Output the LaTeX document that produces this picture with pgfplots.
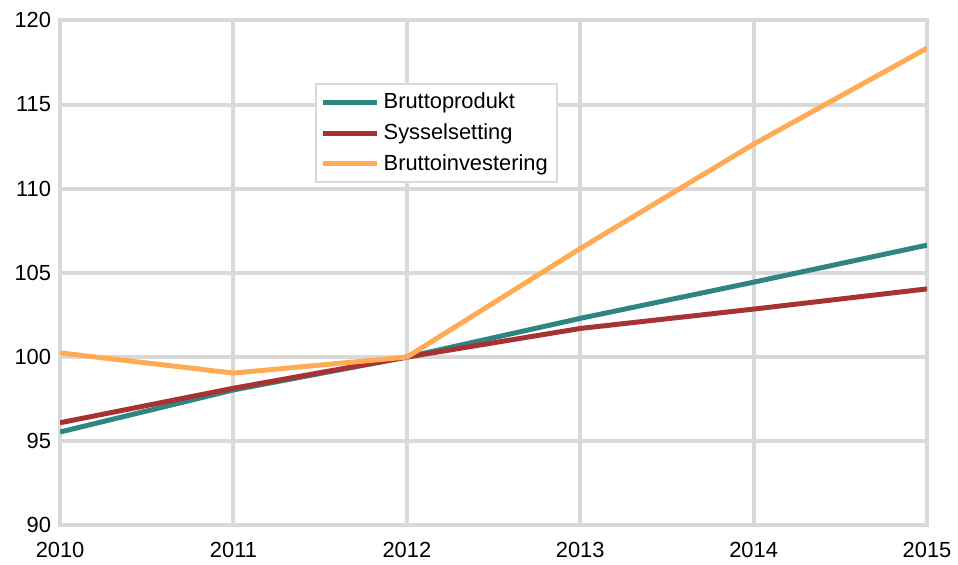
\documentclass[border=0pt]{standalone}
\usepackage{pgfplots}
\pgfplotsset{compat=1.18}
\usepackage{fontspec}
\setmainfont{Liberation Sans}
\definecolor{gridgray}{HTML}{D9D9D9}
\definecolor{teal}{HTML}{2E8582}
\definecolor{brick}{HTML}{A83232}
\definecolor{peach}{HTML}{FFAA55}
\begin{document}
\begin{tikzpicture}
\begin{axis}[
  width=436pt, height=254pt, scale only axis,
  xmin=2010, xmax=2015, ymin=90, ymax=120,
  xtick={2010,...,2015}, ytick={90,95,...,120},
  xticklabel style={/pgf/number format/1000 sep={}},
  /pgf/number format/assume math mode=true,
  tick label style={font=\fontsize{11}{13}\selectfont},
  grid=major, major grid style={gridgray, line width=2pt},
  axis line style={gridgray, line width=2pt},
  major tick length=0pt,
  xticklabel shift=5pt, yticklabel shift=1pt,
  legend style={at={(0.294,0.876)}, anchor=north west, draw=gridgray, line width=1pt,
    font=\fontsize{11}{13}\selectfont, row sep=2pt, inner sep=2.5pt},
  legend cell align=left,
  legend image code/.code={\draw[#1, line width=2.5pt] (0cm,0cm) -- (0.95cm,0cm);},
  every axis plot/.append style={line width=2.5pt},
]
\addplot[teal] coordinates {(2010,95.55) (2011,98.05) (2012,100) (2013,102.3) (2014,104.45) (2015,106.65)};
\addplot[brick] coordinates {(2010,96.1) (2011,98.15) (2012,100) (2013,101.7) (2014,102.85) (2015,104.05)};
\addplot[peach] coordinates {(2010,100.25) (2011,99.05) (2012,100) (2013,106.45) (2014,112.65) (2015,118.35)};
\legend{Bruttoprodukt, Sysselsetting, Bruttoinvestering}
\end{axis}
\path ([xshift=-4pt,yshift=3pt]current bounding box.north west);
\end{tikzpicture}
\end{document}
